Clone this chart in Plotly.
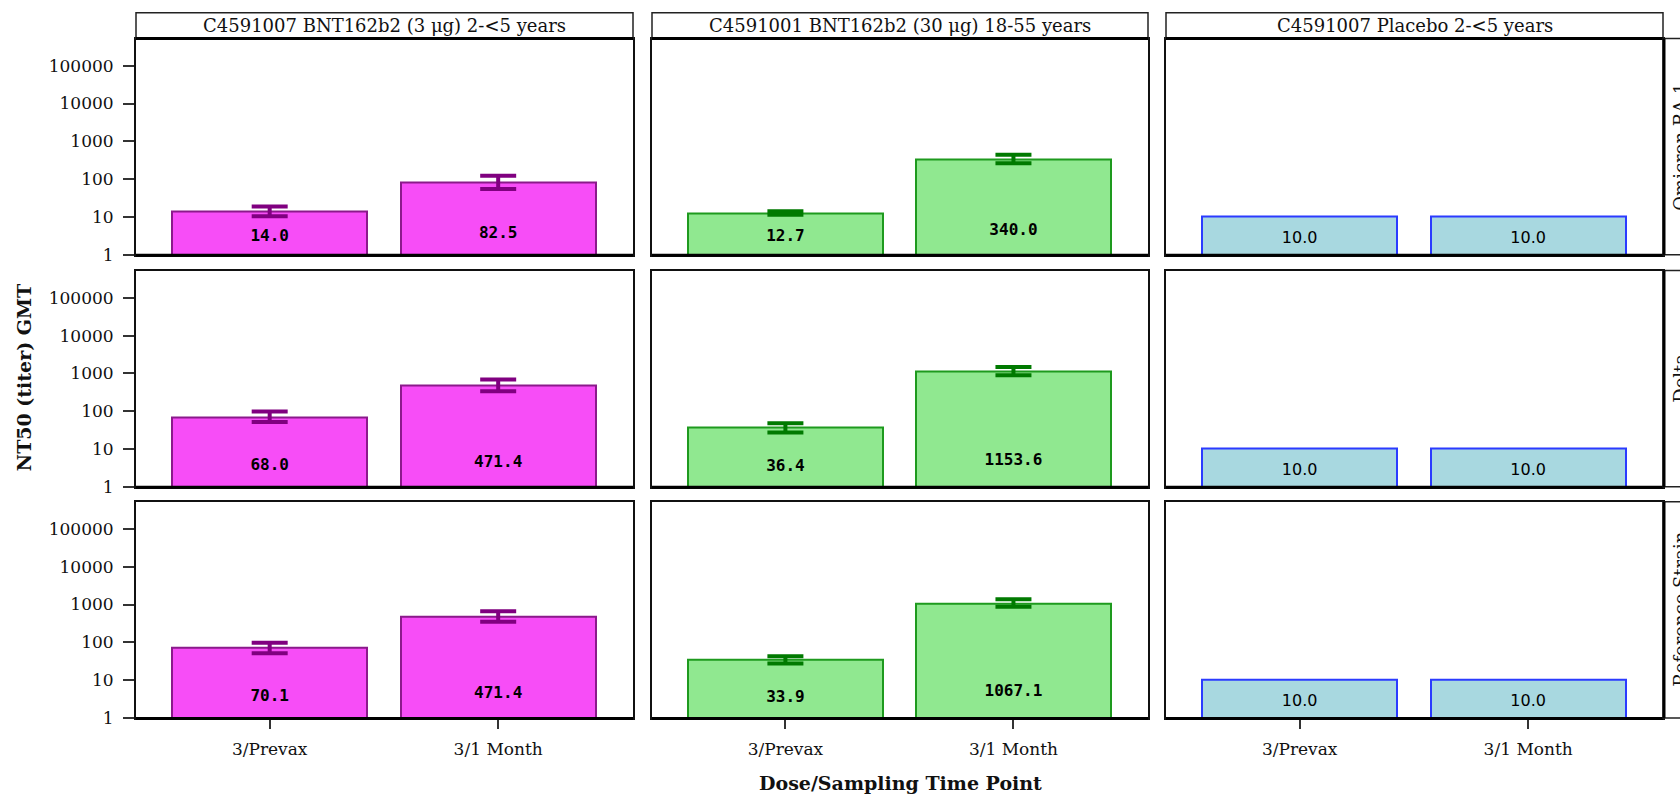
import math
import plotly.graph_objects as go
from plotly.subplots import make_subplots

# ---- data -------------------------------------------------------------
timepoints = ["3/Prevax", "3/1 Month"]
groups = [
    "C4591007 BNT162b2 (3 \u03bcg) 2-<5 years",
    "C4591001 BNT162b2 (30 \u03bcg) 18-55 years",
    "C4591007 Placebo 2-<5 years",
]
strains = ["Omicron BA.1", "Delta", "Reference Strain"]

# GMT and 95% CI, one inner list per strain (rows), [Prevax, 1 Month]
gmt_3ug = [[14.0, 82.5], [68.0, 471.4], [70.1, 471.4]]
lcl_3ug = [[10.4, 55.0], [52.0, 340.0], [51.5, 350.0]]
ucl_3ug = [[18.9, 124.0], [99.0, 690.0], [97.0, 668.0]]

gmt_30ug = [[12.7, 340.0], [36.4, 1153.6], [33.9, 1067.1]]
lcl_30ug = [[11.4, 262.0], [27.6, 900.0], [27.4, 870.0]]
ucl_30ug = [[14.1, 443.0], [48.0, 1480.0], [42.8, 1380.0]]

gmt_placebo = [[10.0, 10.0], [10.0, 10.0], [10.0, 10.0]]

y_tick_values = [1, 10, 100, 1000, 10000, 100000]
y_tick_labels = ["1", "10", "100", "1000", "10000", "100000"]

# ---- layout geometry (pixels) ----------------------------------------
W, H = 1680, 803
col_px = [(136, 633), (652, 1148), (1166, 1663)]
row_px = [(39, 258), (274, 493), (508, 727)]
header_px = (13, 39)
strip_right = 1705


def fx(p):
    return p / W


def fy(p):
    return 1 - p / H


SERIF = "DejaVu Serif"
styles = [
    dict(fill="#F74DF7", edge="#8B1A8B", err="#800080"),
    dict(fill="#90E890", edge="#1E9A1E", err="#007A00"),
    dict(fill="#A8D8E0", edge="#2B3BFF", err=None),
]
series = [
    (gmt_3ug, lcl_3ug, ucl_3ug),
    (gmt_30ug, lcl_30ug, ucl_30ug),
    (gmt_placebo, None, None),
]

fig = make_subplots(rows=3, cols=3)
xpos = [0, 1]

for r in range(3):
    for c in range(3):
        gmt, lcl, ucl = series[c]
        st = styles[c]
        vals = gmt[r]
        if lcl is not None:
            err = dict(
                type="data", symmetric=False,
                array=[u - v for u, v in zip(ucl[r], vals)],
                arrayminus=[v - l for v, l in zip(vals, lcl[r])],
                color=st["err"], thickness=4, width=18,
            )
        else:
            err = dict(visible=False)
        fig.add_trace(
            go.Bar(
                x=xpos, y=vals, width=0.855,
                marker=dict(color=st["fill"], line=dict(color=st["edge"], width=2)),
                error_y=err, hoverinfo="skip",
            ),
            row=r + 1, col=c + 1,
        )
        # value labels near the foot of each bar
        if c < 2:
            ly = [10 ** (0.36 + 0.105 * math.log10(v)) for v in vals]
            tfont = dict(family="DejaVu Sans Mono", size=16, color="#000", weight="bold")
        else:
            ly = [10 ** 0.41 for v in vals]
            tfont = dict(family="DejaVu Sans", size=16, color="#000")
        fig.add_trace(
            go.Scatter(
                x=xpos, y=ly, mode="text", text=[f"{v:.1f}" for v in vals],
                textposition="middle center", textfont=tfont, hoverinfo="skip",
            ),
            row=r + 1, col=c + 1,
        )

        n = r * 3 + c + 1
        xname = "xaxis" if n == 1 else f"xaxis{n}"
        yname = "yaxis" if n == 1 else f"yaxis{n}"
        fig.layout[xname].update(
            domain=[fx(col_px[c][0]), fx(col_px[c][1])],
            range=[-0.585, 1.59], tickvals=xpos, ticktext=timepoints,
            showticklabels=(r == 2), ticks="outside" if r == 2 else "",
            ticklen=9, tickwidth=2, tickcolor="#333", ticklabelstandoff=6,
            tickfont=dict(family=SERIF, size=17, color="#111"),
            showline=True, mirror=True, linecolor="#111", linewidth=2,
            showgrid=False, zeroline=False, fixedrange=True,
        )
        fig.layout[yname].update(
            domain=[fy(row_px[r][1]), fy(row_px[r][0])],
            type="log", range=[0, 5.72],
            tickvals=y_tick_values, ticktext=y_tick_labels,
            showticklabels=(c == 0), ticks="outside" if c == 0 else "",
            ticklen=11, tickwidth=2, tickcolor="#333", ticklabelstandoff=6,
            tickfont=dict(family=SERIF, size=17, color="#111"),
            showline=True, mirror=True, linecolor="#111", linewidth=2,
            showgrid=False, zeroline=False, fixedrange=True,
        )

shapes = []
annotations = []

# column header boxes
for c, name in enumerate(groups):
    x0, x1 = fx(col_px[c][0]), fx(col_px[c][1])
    shapes.append(dict(type="rect", xref="paper", yref="paper",
                       x0=x0, x1=x1, y0=fy(header_px[1]), y1=fy(header_px[0]),
                       line=dict(color="#222", width=1.5), fillcolor="white"))
    shapes.append(dict(type="line", xref="paper", yref="paper",
                       x0=x0, x1=x1, y0=fy(header_px[1]), y1=fy(header_px[1]),
                       line=dict(color="#000", width=3)))
    annotations.append(dict(text=name, xref="paper", yref="paper",
                            x=(x0 + x1) / 2, y=fy(sum(header_px) / 2),
                            xanchor="center", yanchor="middle", showarrow=False,
                            font=dict(family=SERIF, size=18, color="#111")))

# thicker bottom edge of every panel
for r in range(3):
    for c in range(3):
        shapes.append(dict(type="line", xref="paper", yref="paper",
                           x0=fx(col_px[c][0]), x1=fx(col_px[c][1]),
                           y0=fy(row_px[r][1] + 0.5), y1=fy(row_px[r][1] + 0.5),
                           line=dict(color="#000", width=3)))

# row strips on the right
for r, name in enumerate(strains):
    y0, y1 = fy(row_px[r][1]), fy(row_px[r][0])
    shapes.append(dict(type="rect", xref="paper", yref="paper",
                       x0=fx(col_px[2][1]), x1=fx(strip_right), y0=y0, y1=y1,
                       line=dict(color="#222", width=1.5), fillcolor="white"))
    shapes.append(dict(type="line", xref="paper", yref="paper",
                       x0=fx(col_px[2][1] + 1), x1=fx(col_px[2][1] + 1), y0=y0, y1=y1,
                       line=dict(color="#000", width=3)))
    annotations.append(dict(text=name, xref="paper", yref="paper",
                            x=fx(1681), y=(y0 + y1) / 2, textangle=-90,
                            xanchor="center", yanchor="middle", showarrow=False,
                            font=dict(family=SERIF, size=18, color="#111")))

# axis titles
annotations.append(dict(text="<b>NT50 (titer) GMT</b>", xref="paper", yref="paper",
                        x=fx(24), y=fy((row_px[0][0] + row_px[2][1]) / 2),
                        textangle=-90, xanchor="center", yanchor="middle",
                        showarrow=False, font=dict(family=SERIF, size=19, color="#111")))
annotations.append(dict(text="<b>Dose/Sampling Time Point</b>", xref="paper", yref="paper",
                        x=fx((col_px[1][0] + col_px[1][1]) / 2), y=fy(793),
                        xanchor="center", yanchor="middle",
                        showarrow=False, font=dict(family=SERIF, size=19, color="#111")))

fig.update_layout(
    width=W, height=H,
    margin=dict(l=0, r=0, t=0, b=0),
    paper_bgcolor="white", plot_bgcolor="white",
    showlegend=False, bargap=0,
    font=dict(family=SERIF, color="#111"),
    shapes=shapes, annotations=annotations,
)

fig.write_html("out.html")
